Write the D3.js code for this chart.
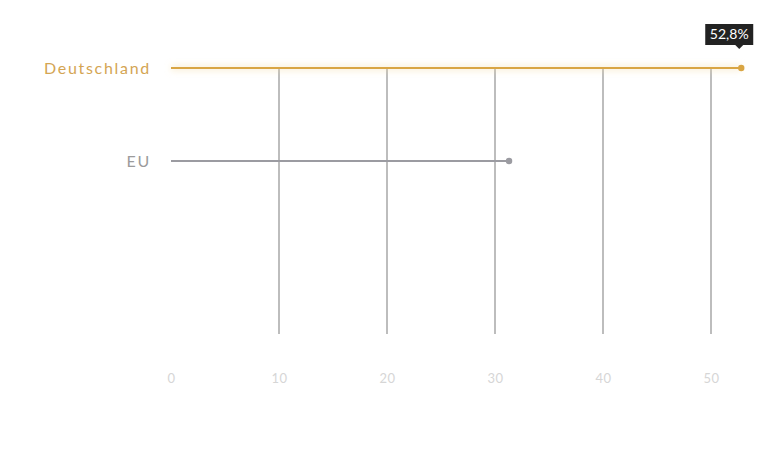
<!DOCTYPE html>
<html>
<head>
<meta charset="utf-8">
<script src="https://cdn.jsdelivr.net/npm/d3@7"></script>
<style>
  body { margin: 0; background: #fff; }
  svg { display: block; font-family: Lato, "Open Sans", sans-serif; }
</style>
</head>
<body>
<svg width="778" height="454"></svg>
<script>
// data
var countries = ["Deutschland", "EU"];
var values = [52.8, 31.3];
var colors = ["#d9a543", "#9b9ba1"];
var ticks = [0, 10, 20, 30, 40, 50];
var highlight = "52,8%";

var svg = d3.select("svg");

var x = d3.scaleLinear().domain([0, 50]).range([171, 711]);
var y = d3.scalePoint().domain(countries).range([68, 161]);

var defs = svg.append("defs");
var glow = defs.append("filter").attr("id", "glow")
    .attr("filterUnits", "userSpaceOnUse")
    .attr("x", 0).attr("y", 0).attr("width", 778).attr("height", 454);
glow.append("feGaussianBlur").attr("stdDeviation", 3);

// grid lines
svg.append("g")
  .selectAll("line")
  .data(ticks.slice(1))
  .enter().append("line")
  .attr("x1", function(d) { return x(d); })
  .attr("x2", function(d) { return x(d); })
  .attr("y1", y("Deutschland"))
  .attr("y2", 334)
  .attr("stroke", "#9a9a9a")
  .attr("stroke-width", 1.3);

// x axis labels
var axis = svg.append("g")
  .attr("transform", "translate(0,378)")
  .call(d3.axisBottom(x).tickValues(ticks).tickSize(0).tickPadding(0));
axis.select(".domain").remove();
axis.selectAll("text")
  .attr("fill", "#d6d6d6")
  .attr("font-size", 13)
  .attr("font-family", "Lato, sans-serif")
  .attr("dy", "0.35em")
  .attr("letter-spacing", 0.5);

// rows
var rows = svg.append("g")
  .selectAll("g")
  .data(countries)
  .enter().append("g");

// soft glow under the highlighted row
rows.filter(function(d, i) { return i === 0; })
  .append("line")
  .attr("x1", x(0))
  .attr("x2", x(values[0]))
  .attr("y1", function(d) { return y(d); })
  .attr("y2", function(d) { return y(d); })
  .attr("stroke", "#f3d9a0")
  .attr("stroke-opacity", 0.4)
  .attr("stroke-width", 6)
  .attr("filter", "url(#glow)");

rows.append("line")
  .attr("x1", x(0))
  .attr("x2", function(d, i) { return x(values[i]); })
  .attr("y1", function(d) { return y(d); })
  .attr("y2", function(d) { return y(d); })
  .attr("stroke", function(d, i) { return colors[i]; })
  .attr("stroke-width", 2.2);

rows.append("circle")
  .attr("cx", function(d, i) { return x(values[i]); })
  .attr("cy", function(d) { return y(d); })
  .attr("r", 3.2)
  .attr("fill", function(d, i) { return colors[i]; });

rows.append("text")
  .attr("x", 151)
  .attr("y", function(d) { return y(d); })
  .attr("dy", "0.35em")
  .attr("text-anchor", "end")
  .attr("font-size", 16)
  .attr("letter-spacing", 1.7)
  .attr("fill", function(d, i) { return i === 0 ? "#d4a553" : "#9b9b9b"; })
  .text(function(d) { return d; });

// tooltip
var tx = x(values[0]) - 2, ty = y("Deutschland") - 24;
var tip = svg.append("g").attr("transform", "translate(" + tx + "," + ty + ")");
tip.append("rect")
  .attr("x", -34).attr("y", -20).attr("width", 48).attr("height", 21)
  .attr("fill", "#222");
tip.append("path")
  .attr("d", "M-4,1 L4,1 L0,5 Z")
  .attr("fill", "#222");
tip.append("text")
  .attr("x", -10).attr("y", -9.5)
  .attr("dy", "0.35em")
  .attr("text-anchor", "middle")
  .attr("fill", "#fff")
  .attr("font-size", 14)
  .attr("font-family", "Lato, sans-serif")
  .text(highlight);
</script>
</body>
</html>
